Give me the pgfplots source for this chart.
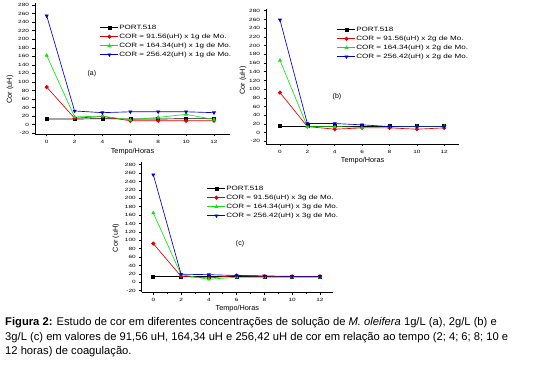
\documentclass[border=0pt]{standalone}
\usepackage{fontspec}
\setmainfont{Liberation Sans}
\newfontfamily\tickfont[FakeStretch=1.4]{Liberation Sans}
\newfontfamily\legfont[FakeStretch=1.3]{Liberation Sans}
\usepackage{pgfplots}
\pgfplotsset{compat=1.18}
\usetikzlibrary{decorations.pathmorphing}
\definecolor{ogreen}{RGB}{20,225,20}
\definecolor{oblue}{RGB}{0,0,210}
\definecolor{ored}{RGB}{225,0,0}

\pgfplotsset{
 origin/.style={
  scale only axis,
  axis x line*=bottom, axis y line*=left,
  axis line style={line width=0.6pt, -},
  tick style={line width=0.5pt, black},
  tick align=outside,
  major tick length=2.5pt, minor tick length=1.5pt,
  xtick={0,2,...,12}, minor x tick num=1,
  ytick={-20,0,...,280},
  /pgf/number format/assume math mode=true,
  tick label style={font=\tickfont\fontsize{4.6}{5}\selectfont},
  label style={font=\fontsize{7.3}{8}\selectfont},
  xlabel={Tempo/Horas},
  ylabel={Cor (uH)},
  legend style={draw=none, fill=none, font=\legfont\fontsize{6.2}{7}\selectfont, anchor=north west,
    inner sep=0pt, row sep=2.2pt, nodes={inner sep=0.5pt, text height=4.5pt, text depth=1.3pt}},
  legend cell align=left,
  legend image code/.code={\draw[mark repeat=2,mark phase=2] plot coordinates {(0pt,0pt) (9pt,0pt) (18pt,0pt)};},
  every axis plot/.append style={line width=0.65pt, mark size=1.7pt},
 },
 s1/.style={black, mark=square*, mark size=1.5pt},
 s2/.style={ored, mark=*},
 s3/.style={ogreen, mark=triangle*},
 s4/.style={oblue, mark=triangle*, mark options={rotate=180}},
}

\begin{document}
\begin{tikzpicture}[x=1pt,y=1pt]
\path[use as bounding box] (0,0) rectangle (540,375);

% (a)
\begin{axis}[origin, at={(35pt,241pt)}, anchor=south west,
  width=195pt, height=131pt, xmin=-0.84, xmax=13.15, ymin=-22, ymax=285,
  xlabel style={at={(axis description cs:0.5,-0.137)}, anchor=center},
  ylabel style={at={(axis description cs:-0.128,0.34)}, anchor=center},
  legend style={at={(0.333,0.839)}}]
\addplot[s1] coordinates {(0,13)(2,13)(4,14)(6,13)(8,13)(10,14)(12,14)};
\addplot[s2] coordinates {(0,88)(2,15)(4,19)(6,9)(8,9)(10,9)(12,9)};
\addplot[s3] coordinates {(0,162)(2,18)(4,20)(6,11)(8,17)(10,24)(12,12)};
\addplot[s4] coordinates {(0,255)(2,32)(4,28)(6,30)(8,30)(10,30)(12,28)};
\legend{PORT.518, COR = 91.56(uH) x 1g de Mo., COR = 164.34(uH) x 1g de Mo., COR = 256.42(uH) x 1g de Mo.}
\node[font=\fontsize{7}{8}\selectfont] at (rel axis cs:0.292,0.458) {(a)};
\end{axis}

% (b)
\begin{axis}[origin, at={(266pt,231pt)}, anchor=south west,
  width=193.3pt, height=135pt, xmin=-1.02, xmax=13.1, ymin=-26, ymax=284,
  xlabel style={at={(axis description cs:0.5,-0.126)}, anchor=center},
  ylabel style={at={(axis description cs:-0.119,0.47)}, anchor=center},
  legend style={at={(0.367,0.873)}}]
\addplot[s1] coordinates {(0,15)(2,15)(4,15)(6,15)(8,15)(10,15)(12,15)};
\addplot[s2] coordinates {(0,92)(2,14)(4,8)(6,11)(8,11)(10,8)(12,11)};
\addplot[s3] coordinates {(0,166)(2,14)(4,14)(6,12)(8,13)(10,14)(12,14)};
\addplot[s4] coordinates {(0,259)(2,21)(4,21)(6,18)(8,14)(10,14)(12,14)};
\legend{PORT.518, COR = 91.56(uH) x 2g de Mo., COR = 164.34(uH) x 2g de Mo., COR = 256.42(uH) x 2g de Mo.}
\node[font=\fontsize{7}{8}\selectfont] at (rel axis cs:0.367,0.348) {(b)};
\end{axis}

% (c)
\begin{axis}[origin, at={(141.7pt,82.7pt)}, anchor=south west,
  width=191.3pt, height=130.6pt, xmin=-0.835, xmax=12.94, ymin=-24, ymax=287,
  xlabel style={at={(axis description cs:0.5,-0.1225)}, anchor=center},
  ylabel style={at={(axis description cs:-0.134,0.415)}, anchor=center},
  legend style={at={(0.341,0.821)}}]
\addplot[s1] coordinates {(0,14)(2,14)(4,14)(6,14)(8,14)(10,14)(12,14)};
\addplot[s2] coordinates {(0,92)(2,14)(4,10)(6,16)(8,14)(10,14)(12,14)};
\addplot[s3] coordinates {(0,165)(2,18)(4,7)(6,12)(8,12)(10,12)(12,12)};
\addplot[s4] coordinates {(0,256)(2,19)(4,18)(6,16)(8,15)(10,14)(12,14)};
\legend{PORT.518, COR = 91.56(uH) x 3g de Mo., COR = 164.34(uH) x 3g de Mo., COR = 256.42(uH) x 3g de Mo.}
\node[font=\fontsize{7}{8}\selectfont] at (rel axis cs:0.514,0.37) {(c)};
\end{axis}

% caption
\begin{scope}[every node/.style={anchor=base west, inner sep=0pt, font=\fontsize{11.2}{13}\selectfont}]
\node at (5,49.3) {\textbf{Figura 2:} Estudo de cor em diferentes concentrações de solução de \textit{M. oleifera} 1g/L (a), 2g/L (b) e};
\node at (5,35) {3g/L (c) em valores de 91,56 uH, 164,34 uH e 256,42 uH de cor em relação ao tempo (2; 4; 6; 8; 10 e};
\node (l3) at (5,20.7) {12 horas) de coagulação.};
\end{scope}
\end{tikzpicture}
\end{document}
